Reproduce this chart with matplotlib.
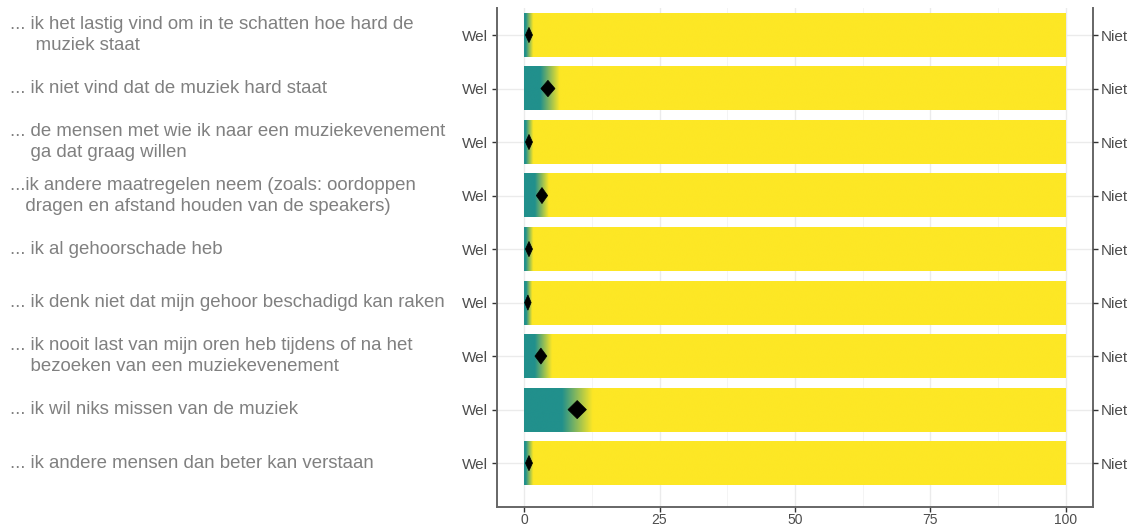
import numpy as np
import matplotlib
matplotlib.use("Agg")
import matplotlib.pyplot as plt
from matplotlib.colors import LinearSegmentedColormap
from matplotlib.patches import Polygon
from matplotlib.transforms import blended_transform_factory

plt.rcParams['font.family'] = ['Liberation Sans', 'DejaVu Sans']

# statements (top to bottom)
labels = [
    "... ik het lastig vind om in te schatten hoe hard de\n     muziek staat",
    "... ik niet vind dat de muziek hard staat",
    "... de mensen met wie ik naar een muziekevenement\n    ga dat graag willen",
    "...ik andere maatregelen neem (zoals: oordoppen\n   dragen en afstand houden van de speakers)",
    "... ik al gehoorschade heb",
    "... ik denk niet dat mijn gehoor beschadigd kan raken",
    "... ik nooit last van mijn oren heb tijdens of na het\n    bezoeken van een muziekevenement",
    "... ik wil niks missen van de muziek",
    "... ik andere mensen dan beter kan verstaan",
]
# mean score (diamond), teal end and yellow start of the gradient, diamond half width
means = [0.9, 4.4, 0.9, 3.3, 0.9, 0.7, 3.1, 9.8, 0.9]
teal_end = [0.3, 3.0, 0.3, 2.0, 0.3, 0.4, 2.0, 7.0, 0.3]
yellow_start = [1.7, 6.6, 1.7, 4.6, 1.7, 1.5, 5.2, 12.7, 1.7]
half_width = [0.65, 1.3, 0.65, 1.05, 0.65, 0.6, 1.1, 1.7, 0.65]
left_tick = "Wel"
right_tick = "Niet"
xticks = [0, 25, 50, 75, 100]

teal = "#21908C"
yellow = "#FDE725"
cmap = LinearSegmentedColormap.from_list("ty", [teal, yellow])

fig = plt.figure(figsize=(11.33, 5.26), dpi=100)
ax = fig.add_axes([497 / 1133, 19 / 526, (1093 - 497) / 1133, (507 - 8) / 526])

n = len(labels)
ys = np.arange(n)
bar_h = 0.82
xs = np.linspace(0, 100, 4000)

for y, a, b, m, w in zip(ys, teal_end, yellow_start, means, half_width):
    t = np.clip((xs - a) / (b - a), 0, 1)
    ax.imshow(t[None, :], cmap=cmap, vmin=0, vmax=1, aspect='auto',
              extent=[0, 100, y + bar_h / 2, y - bar_h / 2],
              interpolation='bilinear', zorder=2)
    hh = 0.14 + 0.003 * m
    ax.add_patch(Polygon([(m - w, y), (m, y - hh), (m + w, y), (m, y + hh)],
                         closed=True, facecolor='black', edgecolor='black',
                         lw=0.5, zorder=3))

ax.set_xlim(-5, 105)
ax.set_ylim(n - 1 + 0.82, -0.505)

ax.set_xticks(xticks)
ax.set_xticks([12.5, 37.5, 62.5, 87.5], minor=True)
ax.set_yticks(ys)
ax.set_yticklabels([left_tick] * n)
ax.grid(True, which='major', color='#EBEBEB', lw=1.0, zorder=0)
ax.grid(True, which='minor', axis='x', color='#F2F2F2', lw=0.6, zorder=0)
ax.set_axisbelow(True)

for side in ['left', 'right', 'bottom']:
    ax.spines[side].set_color('#666666')
    ax.spines[side].set_linewidth(1.4)
ax.spines['top'].set_visible(False)

ax.tick_params(axis='y', which='major', length=3.5, width=1, color='#333333',
               labelsize=11, labelcolor='#4D4D4D', pad=3)
ax.tick_params(axis='x', which='major', length=3.5, width=1, color='#333333',
               labelsize=10, labelcolor='#4D4D4D', pad=1)
ax.tick_params(axis='x', which='minor', length=0)

ax2 = ax.twinx()
ax2.set_ylim(ax.get_ylim())
ax2.set_yticks(ys)
ax2.set_yticklabels([right_tick] * n)
ax2.tick_params(axis='y', length=3.5, width=1, color='#333333',
                labelsize=11, labelcolor='#4D4D4D', pad=2)
for s in ax2.spines.values():
    s.set_visible(False)

trans = blended_transform_factory(fig.transFigure, ax.transData)
for y, lab in zip(ys, labels):
    ax.text(10 / 1133, y, lab, transform=trans, ha='left', va='center',
            fontsize=13.4, color='#808080', linespacing=1.3, clip_on=False)

fig.savefig("out.png", dpi=100)
